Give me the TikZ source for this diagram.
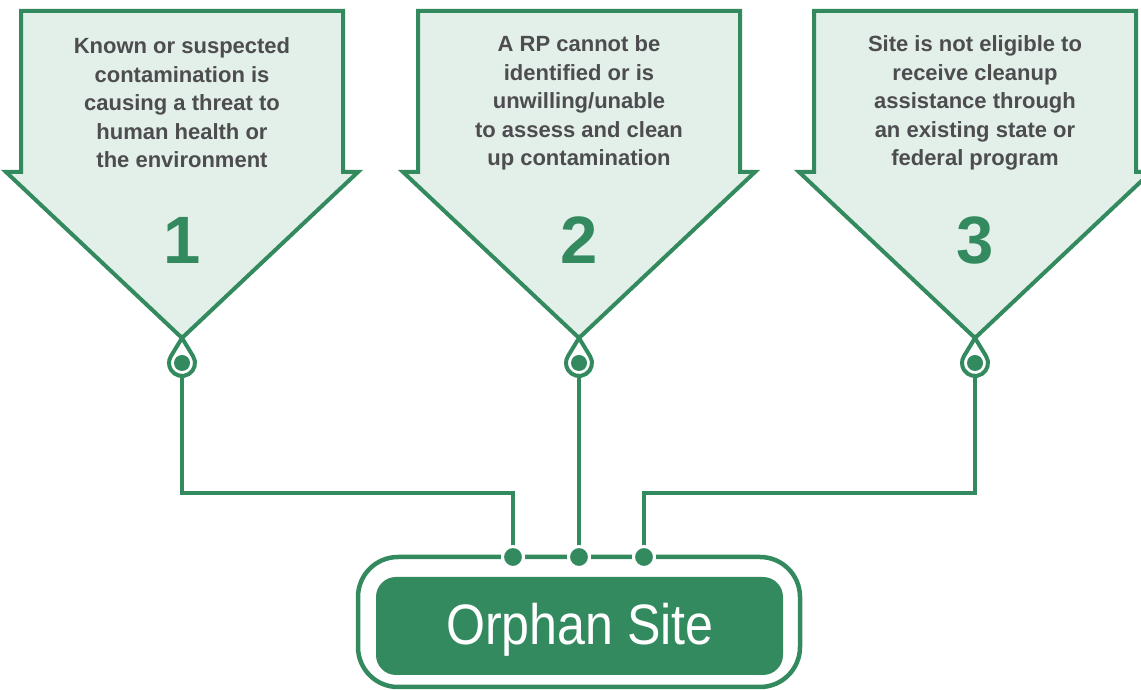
\documentclass[tikz,border=0pt]{standalone}
\usepackage{fontspec}
\setmainfont{Liberation Sans}
\newfontfamily\condfont[FakeStretch=0.88]{Liberation Sans}
\usetikzlibrary{calc}
\definecolor{eg}{HTML}{338A5E}
\definecolor{lg}{HTML}{E3EFE9}
\definecolor{tg}{HTML}{4D4D4F}
\tikzset{
  arrowshape/.style={draw=eg, fill=lg, line width=4pt, line join=miter},
  desc/.style={text=tg, font=\bfseries\fontsize{22}{28.5}\selectfont, align=center, inner sep=0pt},
  num/.style={text=eg, font=\bfseries\fontsize{67}{67}\selectfont, inner sep=0pt},
  ringnode/.style={circle, minimum size=26pt, inner sep=0pt},
  ringline/.style={draw=eg, fill=white, line width=4pt},
  conn/.style={draw=eg, line width=4pt},
  jdot/.style={circle, fill=eg, draw=white, line width=3pt, minimum size=21pt, inner sep=0pt},
  outerbox/.style={draw=eg, line width=4.5pt, rounded corners=40pt, minimum width=442pt, minimum height=130pt, inner sep=0pt},
  innerbox/.style={fill=eg, rounded corners=20pt, minimum width=407pt, minimum height=98pt, inner sep=0pt},
  boxtext/.style={text=white, font=\condfont\fontsize{57}{57}\selectfont, inner sep=0pt, anchor=base}
}
\newcommand{\drawgreenarrow}[3]{%
  \draw[arrowshape] (#1-161,679) -- (#1+161,679) -- (#1+161,518) -- (#1+176,518)
     -- (#1,352) -- (#1-176,518) -- (#1-161,518) -- cycle;
  \node[desc] (t#2) at (#1,587) {#3};
  \node[num] (n#2) at (#1,450) {#2};
  \node[ringnode] (r#2) at (#1,327) {};
  \draw[ringline] (#1,352) -- ($(r#2.center)+(32:13)$) arc[start angle=32, end angle=-212, radius=13] -- cycle;
  \fill[eg] (r#2.center) circle[radius=8];
}
\begin{document}
\begin{tikzpicture}[x=1pt,y=1pt]
\useasboundingbox (0,0) rectangle (1141,690);
\clip (0,0) rectangle (1141,690);
\drawgreenarrow{182}{1}{Known or suspected\\contamination is\\causing a threat to\\human health or\\the environment}
\drawgreenarrow{579}{2}{A RP cannot be\\identified or is\\unwilling/unable\\to assess and clean\\up contamination}
\drawgreenarrow{975}{3}{Site is not eligible to\\receive cleanup\\assistance through\\an existing state or\\federal program}

\node[outerbox] (ob) at (579,68) {};
\node[innerbox] (ib) at (579.5,64) {};
\node[boxtext] (lbl) at (580,45) {Orphan Site};

\coordinate (j1) at (513,197);
\coordinate (j3) at (644,197);
\node[jdot] (d1) at (513,133) {};
\node[jdot] (d2) at (579,133) {};
\node[jdot] (d3) at (644,133) {};
\draw[conn] (r1.south) |- (j1) -- (d1.center);
\draw[conn] (r2.south) -- (d2.center);
\draw[conn] (r3.south) |- (j3) -- (d3.center);
\node[jdot] at (d1) {};
\node[jdot] at (d2) {};
\node[jdot] at (d3) {};
\end{tikzpicture}
\end{document}
